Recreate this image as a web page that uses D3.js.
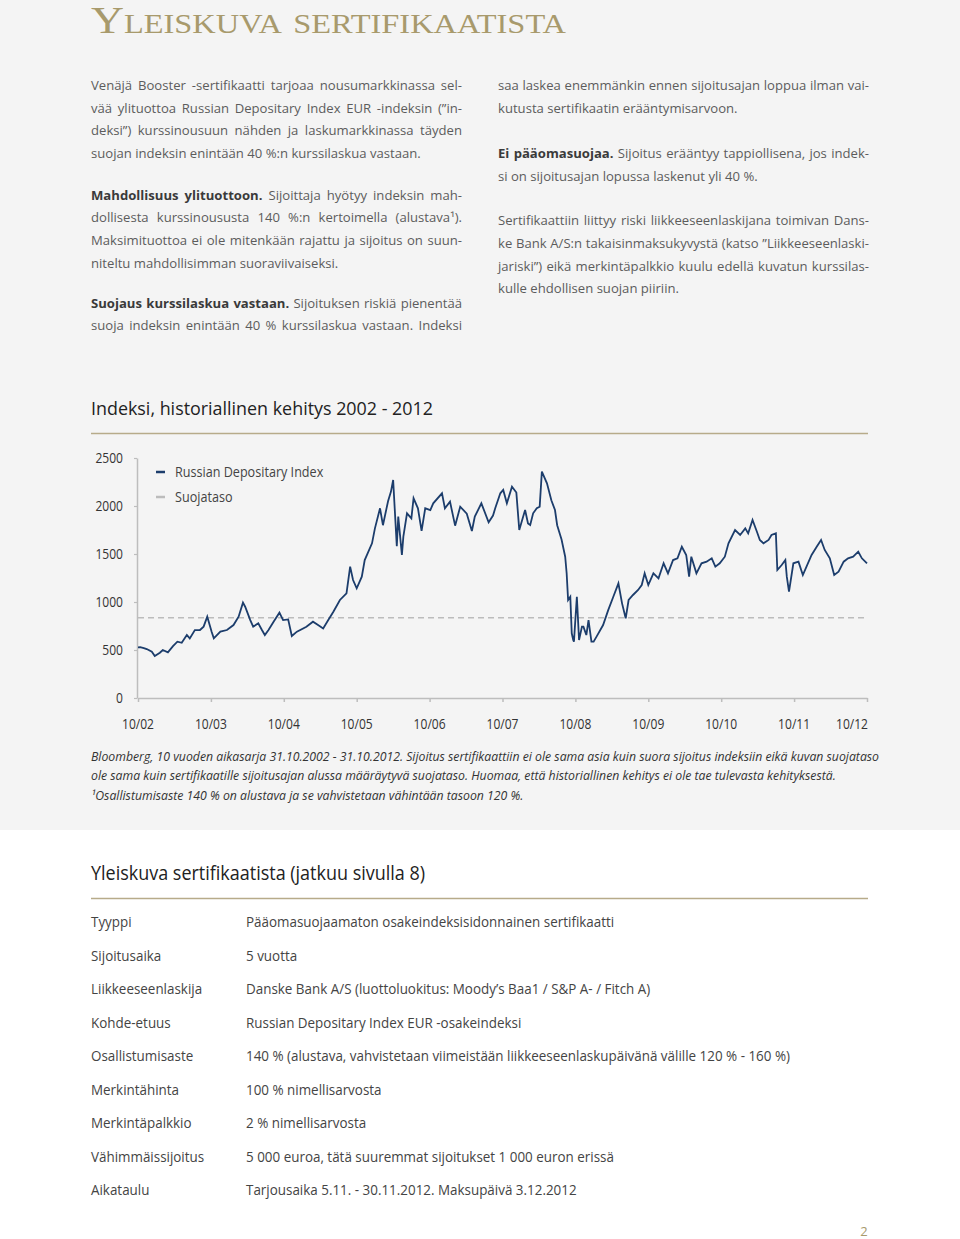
<!DOCTYPE html>
<html><head><meta charset="utf-8">
<script src="https://cdn.jsdelivr.net/npm/d3@7"></script>
<style>
html,body{margin:0;padding:0;background:#fff;}
svg{display:block;}
</style></head><body>
<script>
// ---------- DATA ----------
const indexYears = [
2002.83,2002.86,2002.91,2002.95,2003.02,2003.06,2003.13,2003.17,2003.24,2003.31,2003.37,2003.43,2003.50,2003.54,2003.61,2003.68,2003.73,2003.78,2003.84,2003.87,
2003.96,2004.05,2004.14,2004.21,2004.27,2004.30,2004.37,2004.41,2004.48,2004.53,2004.57,2004.62,2004.69,2004.77,2004.82,2004.89,2004.94,2005.01,2005.14,2005.23,
2005.30,2005.37,2005.44,2005.51,2005.60,2005.69,2005.74,2005.78,2005.83,2005.90,2005.94,2006.04,2006.08,2006.15,2006.19,2006.26,2006.30,2006.33,2006.38,2006.40,
2006.45,2006.47,2006.52,2006.58,2006.61,2006.67,2006.72,2006.77,2006.84,2006.88,2007.00,2007.04,2007.11,2007.18,2007.25,2007.34,2007.41,2007.45,2007.54,2007.64,
2007.70,2007.73,2007.80,2007.84,2007.89,2007.96,2008.02,2008.06,2008.14,2008.18,2008.21,2008.25,2008.30,2008.34,2008.37,2008.44,2008.50,2008.55,2008.58,2008.64,
2008.69,2008.71,2008.73,2008.76,2008.78,2008.80,2008.81,2008.85,2008.88,2008.92,2008.94,2008.98,2009.01,2009.05,2009.08,2009.12,2009.21,2009.28,2009.35,2009.42,
2009.47,2009.52,2009.56,2009.62,2009.69,2009.74,2009.78,2009.83,2009.90,2009.97,2010.04,2010.10,2010.17,2010.23,2010.29,2010.35,2010.39,2010.42,2010.49,2010.56,
2010.63,2010.70,2010.75,2010.81,2010.88,2010.93,2011.02,2011.09,2011.16,2011.20,2011.26,2011.32,2011.36,2011.41,2011.48,2011.52,2011.58,2011.60,2011.66,2011.71,
2011.73,2011.76,2011.82,2011.89,2011.95,2012.00,2012.07,2012.14,2012.20,2012.25,2012.32,2012.38,2012.44,2012.51,2012.57,2012.64,2012.71,2012.76,2012.83
];
const indexValues = [
528,530,520,510,482,437,472,500,475,541,587,575,656,621,708,708,743,847,691,622,
691,708,760,847,993,951,812,743,778,708,656,708,795,889,812,819,646,691,743,795,
760,725,812,899,1021,1090,1368,1229,1142,1264,1437,1611,1767,1976,1800,2050,2150,2271,1580,1889,
1490,1680,1924,1871,2080,1976,1740,1976,1958,2028,2132,1976,2045,1795,1993,1920,1740,1889,2028,1830,
1900,1976,2132,2167,2028,2201,2140,1750,1958,1819,1802,1924,1976,1993,2358,2236,2060,1958,1800,1650,
1472,1299,1021,1055,674,604,587,1055,604,743,743,656,812,587,587,639,760,915,1055,1194,
986,830,1021,1073,1125,1177,1299,1177,1299,1247,1403,1299,1437,1455,1576,1490,1264,1472,1299,1403,
1420,1455,1368,1403,1472,1611,1750,1698,1767,1715,1854,1732,1646,1611,1646,1698,1715,1333,1385,1437,
1264,1108,1403,1420,1281,1368,1490,1576,1646,1542,1455,1281,1316,1420,1455,1472,1524,1455,1403
];
const protectionLevel = 835;
const yTicks = [0, 500, 1000, 1500, 2000, 2500];
const xTickYears = [2002.83,2003.83,2004.83,2005.83,2006.83,2007.83,2008.83,2009.83,2010.83,2011.83,2012.83];
const xTickLabels = ["10/02","10/03","10/04","10/05","10/06","10/07","10/08","10/09","10/10","10/11","10/12"];
const legendLabels = ["Russian Depositary Index", "Suojataso"];

const pageTitle = "Yleiskuva sertifikaatista";
const chartTitle = "Indeksi, historiallinen kehitys 2002 - 2012";
const tableTitle = "Yleiskuva sertifikaatista (jatkuu sivulla 8)";
const footnotes = [
 "Bloomberg, 10 vuoden aikasarja 31.10.2002 - 31.10.2012. Sijoitus sertifikaattiin ei ole sama asia kuin suora sijoitus indeksiin eikä kuvan suojataso",
 "ole sama kuin sertifikaatille sijoitusajan alussa määräytyvä suojataso. Huomaa, että historiallinen kehitys ei ole tae tulevasta kehityksestä.",
 "¹Osallistumisaste 140 % on alustava ja se vahvistetaan vähintään tasoon 120 %."
];
const leftLines = [
 {t:"Venäjä Booster -sertifikaatti tarjoaa nousumarkkinassa sel-", j:true},
 {t:"vää ylituottoa Russian Depositary Index EUR -indeksin (”in-", j:true},
 {t:"deksi”) kurssinousuun nähden ja laskumarkkinassa täyden", j:true},
 {t:"suojan indeksin enintään 40 %:n kurssilaskua vastaan.", j:false},
 {t:"**Mahdollisuus ylituottoon.** Sijoittaja hyötyy indeksin mah-", j:true},
 {t:"dollisesta kurssinoususta 140 %:n kertoimella (alustava¹).", j:true},
 {t:"Maksimituottoa ei ole mitenkään rajattu ja sijoitus on suun-", j:true},
 {t:"niteltu mahdollisimman suoraviivaiseksi.", j:false},
 {t:"**Suojaus kurssilaskua vastaan.** Sijoituksen riskiä pienentää", j:true},
 {t:"suoja indeksin enintään 40 % kurssilaskua vastaan. Indeksi", j:true}
];
const rightLines = [
 {t:"saa laskea enemmänkin ennen sijoitusajan loppua ilman vai-", j:true},
 {t:"kutusta sertifikaatin erääntymisarvoon.", j:false},
 {t:"**Ei pääomasuojaa.** Sijoitus erääntyy tappiollisena, jos indek-", j:true},
 {t:"si on sijoitusajan lopussa laskenut yli 40 %.", j:false},
 {t:"Sertifikaattiin liittyy riski liikkeeseenlaskijana toimivan Dans-", j:true},
 {t:"ke Bank A/S:n takaisinmaksukyvystä (katso ”Liikkeeseenlaski-", j:true},
 {t:"jariski”) eikä merkintäpalkkio kuulu edellä kuvatun kurssilas-", j:true},
 {t:"kulle ehdollisen suojan piiriin.", j:false}
];
const tableLabels = ["Tyyppi","Sijoitusaika","Liikkeeseenlaskija","Kohde-etuus","Osallistumisaste","Merkintähinta","Merkintäpalkkio","Vähimmäissijoitus","Aikataulu"];
const tableValues = [
 "Pääomasuojaamaton osakeindeksisidonnainen sertifikaatti",
 "5 vuotta",
 "Danske Bank A/S (luottoluokitus: Moody’s Baa1 / S&P A- / Fitch A)",
 "Russian Depositary Index EUR -osakeindeksi",
 "140 % (alustava, vahvistetaan viimeistään liikkeeseenlaskupäivänä välille 120 % - 160 %)",
 "100 % nimellisarvosta",
 "2 % nimellisarvosta",
 "5 000 euroa, tätä suuremmat sijoitukset 1 000 euron erissä",
 "Tarjousaika 5.11. - 30.11.2012. Maksupäivä 3.12.2012"
];

// ---------- DRAWING ----------
const W = 960, H = 1239;
const FONT = "'Open Sans', 'DejaVu Sans', sans-serif";
const gold = "#a89a6c", rule = "#b7ab8a";
const svg = d3.select("body").append("svg").attr("width", W).attr("height", H);
svg.append("rect").attr("width", W).attr("height", H).attr("fill", "#ffffff");
svg.append("rect").attr("width", W).attr("height", 830).attr("fill", "#f4f4f4");

const meas = svg.append("text").attr("x", -1000).attr("y", -1000);
function measure(str, size, weight, style) {
  meas.style("font-family", FONT).style("font-size", size + "px")
      .style("font-weight", weight || 400).style("font-style", style || "normal").text(str);
  return meas.node().getComputedTextLength();
}
function fitText(g, x, y, str, size, scale, opts) {
  opts = opts || {};
  const w = measure(str, size, opts.weight, opts.style) * scale;
  return g.append("text").attr("x", x).attr("y", y)
    .attr("textLength", w).attr("lengthAdjust", "spacingAndGlyphs")
    .attr("text-anchor", opts.anchor || "start")
    .style("font-family", FONT).style("font-size", size + "px")
    .style("font-weight", opts.weight || 400).style("font-style", opts.style || "normal")
    .attr("fill", opts.fill || "#333").text(str);
}

// Page title (small caps serif)
svg.append("text").attr("x", 91).attr("y", 33)
  .attr("textLength", 475).attr("lengthAdjust", "spacingAndGlyphs")
  .style("font-family", "'Liberation Serif', 'DejaVu Serif', serif")
  .style("font-size", "38px").style("font-variant", "small-caps")
  .attr("fill", gold).text(pageTitle);

// Body text (justified by word spacing)
const BODY0 = 14;
const BODY = BODY0 * 330 / measure("suojan indeksin enintään 40 %:n kurssilaskua vastaan.", BODY0);
function parseLine(s) {
  const toks = [];
  s.split("**").forEach((seg, i) => {
    seg.split(" ").filter(w => w.length).forEach(w => toks.push({w, b: i % 2 === 1}));
  });
  return toks;
}
function drawBody(lines, x0, baselines, width) {
  const spaceW = measure("a a", BODY) - measure("aa", BODY);
  const minGap = spaceW * 1.1;
  lines.forEach((ln, i) => {
    const toks = parseLine(ln.t);
    let fs = BODY;
    let ws = toks.map(t => measure(t.w, fs, t.b ? 700 : 400));
    let total = d3.sum(ws);
    let gap = ln.j ? (width - total) / (toks.length - 1) : spaceW;
    if (ln.j && gap < minGap) {
      fs = fs * (width - minGap * (toks.length - 1)) / total;
      ws = toks.map(t => measure(t.w, fs, t.b ? 700 : 400));
      total = d3.sum(ws);
      gap = (width - total) / (toks.length - 1);
    }
    let x = x0;
    toks.forEach((t, k) => {
      svg.append("text").attr("x", x).attr("y", baselines[i])
        .style("font-family", FONT).style("font-size", fs + "px")
        .style("font-weight", t.b ? 700 : 400)
        .attr("fill", t.b ? "#3a3a3a" : "#5c5c5c").text(t.w);
      x += ws[k] + gap;
    });
  });
}
drawBody(leftLines, 91, [90,113,135,158,200,222,245,268,308,330], 371);
drawBody(rightLines, 498, [90,113,158,181,225,248,271,293], 371);

// Chart title and rule
const titleSize = 19;
fitText(svg, 91, 415, chartTitle, titleSize, 342 / measure(chartTitle, titleSize), {fill: "#222"});
svg.append("line").attr("x1", 91).attr("x2", 868).attr("y1", 433.5).attr("y2", 433.5)
  .attr("stroke", rule).attr("stroke-width", 1.5);

// Chart
const x = d3.scaleLinear().domain([2002.83, 2012.83]).range([138, 867]);
const y = d3.scaleLinear().domain([0, 2500]).range([698, 458]);
const axisColor = "#bdbdbd";
const labelScale = 0.86;

const gx = svg.append("g").attr("transform", "translate(0,698)")
  .call(d3.axisBottom(x).tickValues(xTickYears).tickFormat((d, i) => xTickLabels[i]).tickSize(4).tickSizeOuter(0));
gx.select(".domain").attr("stroke", axisColor).attr("stroke-width", 1.5);
gx.selectAll(".tick line").attr("stroke", axisColor).attr("stroke-width", 1.5);
gx.selectAll(".tick text").remove();
xTickYears.forEach((d, i) => {
  const last = i === xTickYears.length - 1;
  fitText(svg, last ? x(d) + 1 : x(d), 729, xTickLabels[i], 14, labelScale, {anchor: last ? "end" : "middle", fill: "#333"});
});

const gy = svg.append("g").attr("transform", "translate(137,0)")
  .call(d3.axisLeft(y).tickValues(yTicks).tickSize(3).tickSizeOuter(0));
gy.select(".domain").attr("stroke", axisColor).attr("stroke-width", 1.5);
gy.selectAll(".tick line").attr("stroke", axisColor).attr("stroke-width", 1.2);
gy.selectAll(".tick text").remove();
yTicks.forEach(v => fitText(svg, 123, y(v) + 5, String(v), 14, labelScale, {anchor: "end", fill: "#333"}));

// Protection level
svg.append("line").attr("x1", x(2002.83)).attr("x2", x(2012.83))
  .attr("y1", y(protectionLevel)).attr("y2", y(protectionLevel))
  .attr("stroke", "#bcbcbc").attr("stroke-width", 1.5).attr("stroke-dasharray", "6,4");

// Index line
const pts = indexYears.map((t, i) => [t, indexValues[i]]);
svg.append("path").datum(pts)
  .attr("d", d3.line().x(d => x(d[0])).y(d => y(d[1])))
  .attr("fill", "none").attr("stroke", "#1c3d6c").attr("stroke-width", 1.8).attr("stroke-linejoin", "miter");

// Legend
const legColors = ["#1c3d6c", "#bcbcbc"];
legendLabels.forEach((lab, i) => {
  const ly = 472 + i * 25;
  svg.append("line").attr("x1", 156).attr("x2", 165).attr("y1", ly).attr("y2", ly)
    .attr("stroke", legColors[i]).attr("stroke-width", 2.5);
  fitText(svg, 175, ly + 5, lab, 14, 0.9, {fill: "#444"});
});

// Footnotes
const fnSize = 12.5;
const fnScale = 788 / measure(footnotes[0], fnSize, 400, "italic");
[761, 780, 800].forEach((yy, i) => fitText(svg, 91, yy, footnotes[i], fnSize, fnScale, {style: "italic", fill: "#333"}));

// Table section
fitText(svg, 91, 880, tableTitle, 20, 334 / measure(tableTitle, 20), {fill: "#222"});
svg.append("line").attr("x1", 91).attr("x2", 868).attr("y1", 898.5).attr("y2", 898.5)
  .attr("stroke", rule).attr("stroke-width", 1.5);
const tSize = 15;
const tScale = 544 / measure(tableValues[4], tSize);
const rowY = d3.scaleLinear().domain([0, tableLabels.length - 1]).range([927, 1195]);
tableLabels.forEach((lab, i) => {
  fitText(svg, 91, rowY(i), lab, tSize, tScale, {fill: "#444"});
  fitText(svg, 246, rowY(i), tableValues[i], tSize, tScale, {fill: "#444"});
});

// Page number
svg.append("text").attr("x", 864).attr("y", 1236).attr("text-anchor", "middle")
  .style("font-family", FONT).style("font-size", "13px").attr("fill", gold).text("2");
meas.remove();
</script>
</body></html>
